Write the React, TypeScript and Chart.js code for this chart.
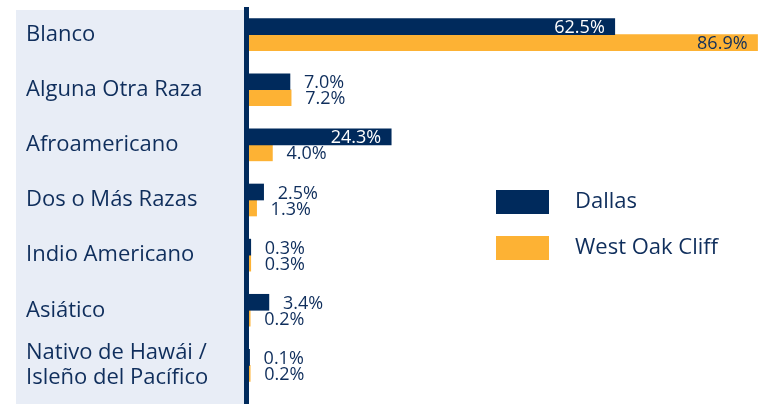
import React, { useEffect, useRef } from "react";
import { Chart, registerables } from "chart.js";

Chart.register(...registerables);

const categories: (string | string[])[] = [
  "Blanco",
  "Alguna Otra Raza",
  "Afroamericano",
  "Dos o Más Razas",
  "Indio Americano",
  "Asiático",
  ["Nativo de Hawái /", "Isleño del Pacífico"],
];
const seriesNames = ["Dallas", "West Oak Cliff"];
const dallas = [62.5, 7.0, 24.3, 2.5, 0.3, 3.4, 0.1];
const westOakCliff = [86.9, 7.2, 4.0, 1.3, 0.3, 0.2, 0.2];

const NAVY = "#002A5C";
const ORANGE = "#FDB234";
const TEXT = "#0F2E5C";
const PANEL = "#E8EDF6";
const FONT = "'Open Sans', 'Noto Sans', sans-serif";

const panelPlugin = {
  id: "panel",
  beforeDraw(chart: any) {
    const { ctx, chartArea, height } = chart;
    ctx.save();
    ctx.fillStyle = PANEL;
    ctx.fillRect(16, 10, chartArea.left - 5 - 16, height - 10);
    ctx.fillStyle = NAVY;
    ctx.fillRect(chartArea.left - 5, 7, 5, height - 7);
    ctx.restore();
  },
};

const valueLabelPlugin = {
  id: "valueLabels",
  afterDatasetsDraw(chart: any) {
    const { ctx } = chart;
    ctx.save();
    ctx.font = `18px ${FONT}`;
    ctx.textBaseline = "middle";
    chart.data.datasets.forEach((ds: any, di: number) => {
      const meta = chart.getDatasetMeta(di);
      meta.data.forEach((el: any, i: number) => {
        const v = ds.data[i] as number;
        const text = `${v.toFixed(1)}%`;
        const w = ctx.measureText(text).width;
        const len = el.x - el.base;
        if (len >= w + 18) {
          ctx.textAlign = "right";
          ctx.fillStyle = di === 0 ? "#FFFFFF" : TEXT;
          ctx.fillText(text, el.x - 10, el.y + 1.5);
        } else {
          ctx.textAlign = "left";
          ctx.fillStyle = TEXT;
          ctx.fillText(text, el.x + 14, el.y + 1.5);
        }
      });
    });
    ctx.restore();
  },
};

const legendPlugin = {
  id: "customLegend",
  afterDraw(chart: any) {
    const { ctx } = chart;
    ctx.save();
    ctx.font = `22px ${FONT}`;
    ctx.textBaseline = "middle";
    ctx.textAlign = "left";
    chart.data.datasets.forEach((ds: any, i: number) => {
      const y = 190 + i * 46;
      ctx.fillStyle = ds.backgroundColor;
      ctx.fillRect(496, y, 53, 24);
      ctx.fillStyle = TEXT;
      ctx.fillText(ds.label, 575, y + 12);
    });
    ctx.restore();
  },
};

export default function App() {
  const ref = useRef<HTMLCanvasElement | null>(null);

  useEffect(() => {
    document.body.style.margin = "0";
    const canvas = ref.current;
    if (!canvas) return;
    const chart = new Chart(canvas, {
      type: "bar",
      data: {
        labels: categories,
        datasets: [
          {
            label: seriesNames[0],
            data: dallas,
            backgroundColor: NAVY,
            barThickness: 16,
          },
          {
            label: seriesNames[1],
            data: westOakCliff,
            backgroundColor: ORANGE,
            barThickness: 16,
          },
        ],
      },
      options: {
        indexAxis: "y",
        animation: false,
        responsive: false,
        devicePixelRatio: 1,
        layout: { padding: { left: 26, right: 3, top: 7, bottom: 11 } },
        plugins: {
          legend: { display: false },
          tooltip: { enabled: false },
        },
        scales: {
          x: {
            display: false,
            min: 0,
            max: 88,
          },
          y: {
            grid: { display: false },
            border: { display: false },
            ticks: {
              crossAlign: "far",
              color: TEXT,
              font: { family: FONT, size: 22, lineHeight: 1.14 },
            },
            afterFit(scale: any) {
              scale.width = 223;
              scale.paddingTop = 0;
              scale.paddingBottom = 0;
            },
          },
        },
      },
      plugins: [panelPlugin, valueLabelPlugin, legendPlugin],
    });
    return () => chart.destroy();
  }, []);

  return (
    <div style={{ width: 767, height: 404 }}>
      <canvas ref={ref} width={767} height={404} />
    </div>
  );
}
